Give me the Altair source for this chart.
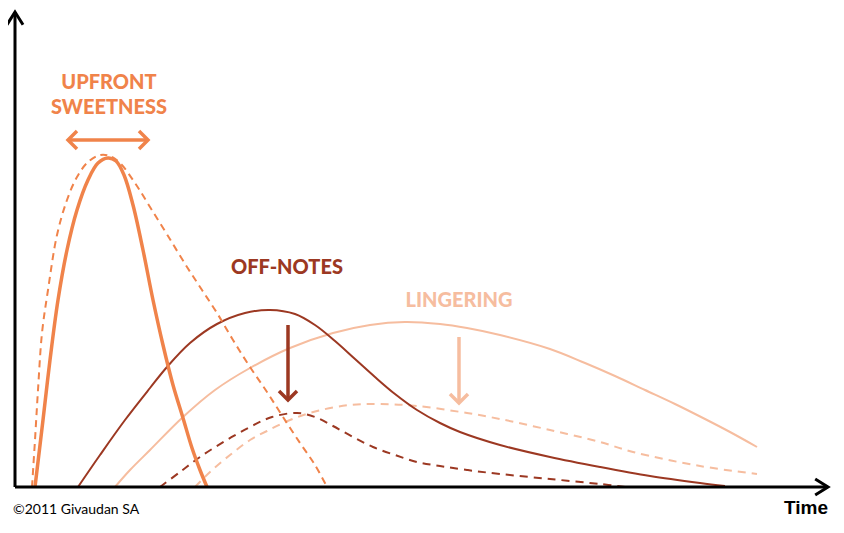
import altair as alt
import pandas as pd

ORANGE = "#F0834A"
DARK = "#9C3822"
PEACH = "#F6BD9F"

# Curves: time (x) and intensity (y)
up_solid_t = [20, 28, 35, 43, 52, 62, 73, 83, 93, 101, 109, 118, 128, 138, 148, 158, 168, 177, 185, 192]
up_solid_v = [0, 67, 127, 187, 237, 277, 307, 324, 329, 326, 312, 282, 237, 187, 142, 102, 69, 39, 17, 0]

up_dash_t = [17, 20, 23, 27, 33, 42, 52, 62, 73, 85, 95, 105, 120, 135, 153, 172, 187, 202, 218, 235, 252, 268, 285, 300, 312]
up_dash_v = [0, 47, 97, 154, 197, 252, 287, 310, 325, 332, 331, 324, 304, 280, 251, 220, 197, 174, 147, 120, 95, 70, 44, 22, 0]

off_solid_t = [63, 85, 110, 135, 152, 175, 202, 230, 255, 280, 300, 320, 340, 360, 380, 402, 425, 445, 485, 535, 585, 635, 685, 710]
off_solid_v = [0, 32, 67, 99, 120, 144, 163, 174, 177, 173, 162, 146, 128, 110, 93, 77, 64, 55, 42, 30, 20, 11, 4, 1]

off_dash_t = [145, 165, 185, 210, 235, 257, 282, 300, 318, 338, 358, 380, 402, 425, 452, 485, 535, 585, 610]
off_dash_v = [0, 15, 30, 46, 60, 70, 74, 70, 61, 50, 40, 32, 25, 21, 17, 13, 8, 3, 0]

lin_solid_t = [100, 115, 135, 168, 200, 235, 275, 318, 355, 390, 425, 452, 485, 535, 570, 600, 630, 660, 690, 715, 742]
lin_solid_v = [0, 17, 37, 70, 97, 119, 139, 154, 162, 165, 163, 159, 152, 138, 124, 111, 97, 83, 68, 55, 40]

lin_dash_t = [180, 195, 215, 235, 252, 275, 302, 335, 365, 402, 452, 485, 535, 585, 618, 685, 742]
lin_dash_v = [0, 15, 32, 47, 56, 67, 76, 82, 83, 81, 74, 68, 57, 45, 35, 21, 13]

# Annotation arrows
up_arrow_t = [53, 133]
up_arrow_v = [347, 347]
off_arrow_t = [273, 273]
off_arrow_v = [162, 87]
lin_arrow_t = [444, 444]
lin_arrow_v = [150, 84]

# Axis extents
x_axis_end = 813
y_axis_end = 475

XS = alt.Scale(domain=[0, 813], range=[7, 820])
YS = alt.Scale(domain=[0, 475], range=[479, 4])

CHEVRON = "M-1,1L0,0L1,1"
AXIS_CHEVRON = "M-1,1.6L0,0L1,1.6"


def curve(ts, vs, color, width, dash=None):
    df = pd.DataFrame({"t": ts, "v": vs})
    kw = dict(color=color, strokeWidth=width, interpolate="catmull-rom", strokeCap="butt")
    if dash:
        kw["strokeDash"] = dash
    return alt.Chart(df).mark_line(**kw).encode(
        x=alt.X("t:Q", scale=XS, axis=None),
        y=alt.Y("v:Q", scale=YS, axis=None),
    )


def arrow_line(ts, vs, color, width):
    df = pd.DataFrame({"t": ts, "v": vs})
    return alt.Chart(df).mark_line(color=color, strokeWidth=width, strokeCap="butt").encode(
        x=alt.X("t:Q", scale=XS, axis=None),
        y=alt.Y("v:Q", scale=YS, axis=None),
    )


def head(t, v, angle, color, width, size, shape=CHEVRON):
    df = pd.DataFrame({"t": [t], "v": [v]})
    return alt.Chart(df).mark_point(
        shape=shape, filled=False, stroke=color, strokeWidth=width,
        size=size, angle=angle, strokeJoin="miter", strokeCap="butt", opacity=1,
    ).encode(
        x=alt.X("t:Q", scale=XS, axis=None),
        y=alt.Y("v:Q", scale=YS, axis=None),
    )


def label(t, v, txt, color, size, font, weight, align):
    df = pd.DataFrame({"t": [t], "v": [v], "txt": [txt]})
    return alt.Chart(df).mark_text(
        color=color, fontSize=size, font=font, fontWeight=weight,
        align=align, baseline="alphabetic",
    ).encode(
        x=alt.X("t:Q", scale=XS, axis=None),
        y=alt.Y("v:Q", scale=YS, axis=None),
        text="txt:N",
    )


axes_x = alt.Chart(pd.DataFrame({"t": [0], "t2": [x_axis_end], "v": [0]})).mark_rule(
    color="black", strokeWidth=3
).encode(x=alt.X("t:Q", scale=XS, axis=None), x2="t2:Q", y=alt.Y("v:Q", scale=YS, axis=None))
axes_y = alt.Chart(pd.DataFrame({"t": [0], "v": [0], "v2": [y_axis_end]})).mark_rule(
    color="black", strokeWidth=3
).encode(x=alt.X("t:Q", scale=XS, axis=None), y=alt.Y("v:Q", scale=YS, axis=None), y2="v2:Q")

layers = [
    curve(lin_dash_t, lin_dash_v, PEACH, 2, [8, 6]),
    curve(lin_solid_t, lin_solid_v, PEACH, 2),
    curve(off_dash_t, off_dash_v, DARK, 2, [8, 6]),
    curve(off_solid_t, off_solid_v, DARK, 2),
    curve(up_dash_t, up_dash_v, ORANGE, 2, [7, 5]),
    curve(up_solid_t, up_solid_v, ORANGE, 3.5),
    arrow_line(up_arrow_t, up_arrow_v, ORANGE, 3.5),
    head(up_arrow_t[0], up_arrow_v[0], 270, ORANGE, 3.5, 324),
    head(up_arrow_t[1], up_arrow_v[1], 90, ORANGE, 3.5, 324),
    arrow_line(off_arrow_t, off_arrow_v, DARK, 3.5),
    head(off_arrow_t[1], off_arrow_v[1], 180, DARK, 3.5, 324),
    arrow_line(lin_arrow_t, lin_arrow_v, PEACH, 3.5),
    head(lin_arrow_t[1], lin_arrow_v[1], 180, PEACH, 3.5, 324),
    axes_x,
    axes_y,
    head(0, y_axis_end, 0, "black", 3, 256, AXIS_CHEVRON),
    head(x_axis_end, 0, 90, "black", 3, 256, AXIS_CHEVRON),
    label(94, 398, "UPFRONT", ORANGE, 20, "Lato", 900, "center"),
    label(94, 373, "SWEETNESS", ORANGE, 20, "Lato", 900, "center"),
    label(272, 213, "OFF-NOTES", DARK, 20, "Lato", 900, "center"),
    label(444, 180, "LINGERING", PEACH, 20, "Lato", 900, "center"),
    label(813, -27, "Time", "black", 19, "Liberation Sans", "bold", "right"),
    label(-2, -27, "©2011 Givaudan SA", "black", 14, "Lato", "normal", "left"),
]

chart = alt.layer(*layers).properties(
    width=828, height=517, padding=0, autosize="none"
).configure_view(strokeWidth=0)

chart.save("out.html", embed_options={"renderer": "svg", "actions": False})
